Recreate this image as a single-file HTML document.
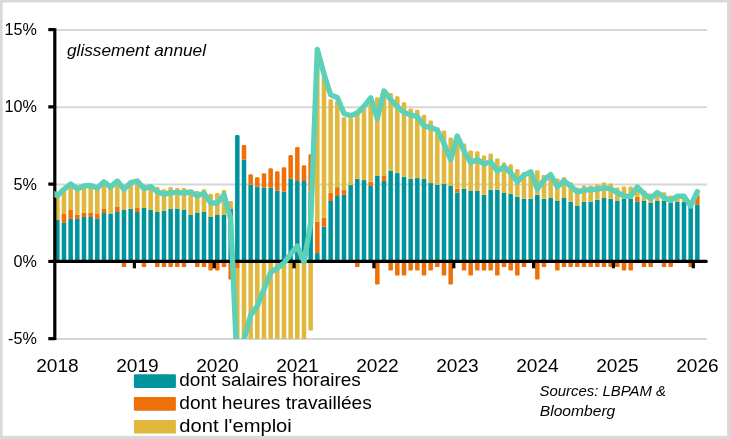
<!DOCTYPE html>
<html lang="fr"><head><meta charset="utf-8"><title>glissement annuel</title>
<style>
html,body{margin:0;padding:0;background:#fff;}
body{width:730px;height:439px;overflow:hidden;font-family:"Liberation Sans",sans-serif;}
svg{display:block;}
</style></head><body>
<svg width="730" height="439" viewBox="0 0 730 439">
<defs><clipPath id="plot"><rect x="54.3" y="26.8" width="652.7" height="312.3"/></clipPath></defs>
<rect x="0" y="0" width="730" height="439" fill="#d9d9d9"/>
<rect x="2.6" y="2.5" width="724.5" height="433.3" fill="#ffffff"/>
<line x1="55.3" y1="29.98" x2="707.0" y2="29.98" stroke="#d6d6d6" stroke-width="2"/>
<line x1="55.3" y1="107.25" x2="707.0" y2="107.25" stroke="#d6d6d6" stroke-width="2"/>
<line x1="55.3" y1="184.53" x2="707.0" y2="184.53" stroke="#d6d6d6" stroke-width="2"/>
<line x1="55.3" y1="339.07" x2="707.0" y2="339.07" stroke="#d6d6d6" stroke-width="2"/>
<g clip-path="url(#plot)">
<rect x="55.06" y="220.00" width="4.50" height="41.50" fill="#00959c"/>
<path d="M55.06 220.00 V197.10 A1.30 1.30 0 0 1 56.36 195.80 H58.26 A1.30 1.30 0 0 1 59.56 197.10 V220.00 Z" fill="#e0b83e"/>
<rect x="61.73" y="222.90" width="4.50" height="38.60" fill="#00959c"/>
<rect x="61.73" y="214.00" width="4.50" height="8.90" fill="#ee7008"/>
<path d="M61.73 214.00 V190.60 A1.30 1.30 0 0 1 63.03 189.30 H64.93 A1.30 1.30 0 0 1 66.23 190.60 V214.00 Z" fill="#e0b83e"/>
<rect x="68.40" y="218.90" width="4.50" height="42.60" fill="#00959c"/>
<rect x="68.40" y="210.00" width="4.50" height="8.90" fill="#ee7008"/>
<path d="M68.40 210.00 V185.30 A1.30 1.30 0 0 1 69.70 184.00 H71.60 A1.30 1.30 0 0 1 72.90 185.30 V210.00 Z" fill="#e0b83e"/>
<rect x="75.06" y="218.90" width="4.50" height="42.60" fill="#00959c"/>
<rect x="75.06" y="214.70" width="4.50" height="4.20" fill="#ee7008"/>
<path d="M75.06 214.70 V190.10 A1.30 1.30 0 0 1 76.36 188.80 H78.26 A1.30 1.30 0 0 1 79.56 190.10 V214.70 Z" fill="#e0b83e"/>
<rect x="81.73" y="217.00" width="4.50" height="44.50" fill="#00959c"/>
<rect x="81.73" y="213.00" width="4.50" height="4.00" fill="#ee7008"/>
<path d="M81.73 213.00 V187.30 A1.30 1.30 0 0 1 83.03 186.00 H84.93 A1.30 1.30 0 0 1 86.23 187.30 V213.00 Z" fill="#e0b83e"/>
<rect x="88.40" y="217.00" width="4.50" height="44.50" fill="#00959c"/>
<rect x="88.40" y="213.00" width="4.50" height="4.00" fill="#ee7008"/>
<path d="M88.40 213.00 V186.80 A1.30 1.30 0 0 1 89.70 185.50 H91.60 A1.30 1.30 0 0 1 92.90 186.80 V213.00 Z" fill="#e0b83e"/>
<rect x="95.07" y="218.90" width="4.50" height="42.60" fill="#00959c"/>
<rect x="95.07" y="214.00" width="4.50" height="4.90" fill="#ee7008"/>
<path d="M95.07 214.00 V189.40 A1.30 1.30 0 0 1 96.37 188.10 H98.27 A1.30 1.30 0 0 1 99.57 189.40 V214.00 Z" fill="#e0b83e"/>
<rect x="101.73" y="213.00" width="4.50" height="48.50" fill="#00959c"/>
<rect x="101.73" y="209.00" width="4.50" height="4.00" fill="#ee7008"/>
<path d="M101.73 209.00 V183.10 A1.30 1.30 0 0 1 103.03 181.80 H104.93 A1.30 1.30 0 0 1 106.23 183.10 V209.00 Z" fill="#e0b83e"/>
<rect x="108.40" y="214.00" width="4.50" height="47.50" fill="#00959c"/>
<path d="M108.40 214.00 V188.40 A1.30 1.30 0 0 1 109.70 187.10 H111.60 A1.30 1.30 0 0 1 112.90 188.40 V214.00 Z" fill="#e0b83e"/>
<rect x="115.07" y="212.00" width="4.50" height="49.50" fill="#00959c"/>
<rect x="115.07" y="207.00" width="4.50" height="5.00" fill="#ee7008"/>
<path d="M115.07 207.00 V182.30 A1.30 1.30 0 0 1 116.37 181.00 H118.27 A1.30 1.30 0 0 1 119.57 182.30 V207.00 Z" fill="#e0b83e"/>
<rect x="121.73" y="210.00" width="4.50" height="51.50" fill="#00959c"/>
<path d="M121.73 210.00 V186.10 A1.30 1.30 0 0 1 123.03 184.80 H124.93 A1.30 1.30 0 0 1 126.23 186.10 V210.00 Z" fill="#e0b83e"/>
<path d="M121.73 261.50 V266.20 A0.70 0.70 0 0 0 122.43 266.90 H125.53 A0.70 0.70 0 0 0 126.23 266.20 V261.50 Z" fill="#ee7008"/>
<rect x="128.40" y="209.00" width="4.50" height="52.50" fill="#00959c"/>
<path d="M128.40 209.00 V183.90 A1.30 1.30 0 0 1 129.70 182.60 H131.60 A1.30 1.30 0 0 1 132.90 183.90 V209.00 Z" fill="#e0b83e"/>
<rect x="135.07" y="212.00" width="4.50" height="49.50" fill="#00959c"/>
<rect x="135.07" y="208.00" width="4.50" height="4.00" fill="#ee7008"/>
<path d="M135.07 208.00 V182.30 A1.30 1.30 0 0 1 136.37 181.00 H138.27 A1.30 1.30 0 0 1 139.57 182.30 V208.00 Z" fill="#e0b83e"/>
<rect x="141.73" y="208.00" width="4.50" height="53.50" fill="#00959c"/>
<path d="M141.73 208.00 V185.60 A1.30 1.30 0 0 1 143.03 184.30 H144.93 A1.30 1.30 0 0 1 146.23 185.60 V208.00 Z" fill="#e0b83e"/>
<path d="M141.73 261.50 V266.20 A0.70 0.70 0 0 0 142.43 266.90 H145.53 A0.70 0.70 0 0 0 146.23 266.20 V261.50 Z" fill="#ee7008"/>
<rect x="148.40" y="210.00" width="4.50" height="51.50" fill="#00959c"/>
<path d="M148.40 210.00 V187.80 A1.30 1.30 0 0 1 149.70 186.50 H151.60 A1.30 1.30 0 0 1 152.90 187.80 V210.00 Z" fill="#e0b83e"/>
<rect x="155.07" y="212.00" width="4.50" height="49.50" fill="#00959c"/>
<path d="M155.07 212.00 V188.40 A1.30 1.30 0 0 1 156.37 187.10 H158.27 A1.30 1.30 0 0 1 159.57 188.40 V212.00 Z" fill="#e0b83e"/>
<path d="M155.07 261.50 V266.20 A0.70 0.70 0 0 0 155.77 266.90 H158.87 A0.70 0.70 0 0 0 159.57 266.20 V261.50 Z" fill="#ee7008"/>
<rect x="161.74" y="211.00" width="4.50" height="50.50" fill="#00959c"/>
<path d="M161.74 211.00 V190.60 A1.30 1.30 0 0 1 163.04 189.30 H164.94 A1.30 1.30 0 0 1 166.24 190.60 V211.00 Z" fill="#e0b83e"/>
<path d="M161.74 261.50 V266.20 A0.70 0.70 0 0 0 162.44 266.90 H165.54 A0.70 0.70 0 0 0 166.24 266.20 V261.50 Z" fill="#ee7008"/>
<rect x="168.40" y="209.00" width="4.50" height="52.50" fill="#00959c"/>
<path d="M168.40 209.00 V188.40 A1.30 1.30 0 0 1 169.70 187.10 H171.60 A1.30 1.30 0 0 1 172.90 188.40 V209.00 Z" fill="#e0b83e"/>
<path d="M168.40 261.50 V266.20 A0.70 0.70 0 0 0 169.10 266.90 H172.20 A0.70 0.70 0 0 0 172.90 266.20 V261.50 Z" fill="#ee7008"/>
<rect x="175.07" y="208.90" width="4.50" height="52.60" fill="#00959c"/>
<path d="M175.07 208.90 V189.40 A1.30 1.30 0 0 1 176.37 188.10 H178.27 A1.30 1.30 0 0 1 179.57 189.40 V208.90 Z" fill="#e0b83e"/>
<path d="M175.07 261.50 V266.20 A0.70 0.70 0 0 0 175.77 266.90 H178.87 A0.70 0.70 0 0 0 179.57 266.20 V261.50 Z" fill="#ee7008"/>
<rect x="181.74" y="209.90" width="4.50" height="51.60" fill="#00959c"/>
<path d="M181.74 209.90 V189.40 A1.30 1.30 0 0 1 183.04 188.10 H184.94 A1.30 1.30 0 0 1 186.24 189.40 V209.90 Z" fill="#e0b83e"/>
<path d="M181.74 261.50 V266.20 A0.70 0.70 0 0 0 182.44 266.90 H185.54 A0.70 0.70 0 0 0 186.24 266.20 V261.50 Z" fill="#ee7008"/>
<rect x="188.40" y="214.90" width="4.50" height="46.60" fill="#00959c"/>
<path d="M188.40 214.90 V193.10 A1.30 1.30 0 0 1 189.70 191.80 H191.60 A1.30 1.30 0 0 1 192.90 193.10 V214.90 Z" fill="#e0b83e"/>
<rect x="195.07" y="213.00" width="4.50" height="48.50" fill="#00959c"/>
<path d="M195.07 213.00 V192.30 A1.30 1.30 0 0 1 196.37 191.00 H198.27 A1.30 1.30 0 0 1 199.57 192.30 V213.00 Z" fill="#e0b83e"/>
<path d="M195.07 261.50 V266.20 A0.70 0.70 0 0 0 195.77 266.90 H198.87 A0.70 0.70 0 0 0 199.57 266.20 V261.50 Z" fill="#ee7008"/>
<rect x="201.74" y="211.90" width="4.50" height="49.60" fill="#00959c"/>
<path d="M201.74 211.90 V190.60 A1.30 1.30 0 0 1 203.04 189.30 H204.94 A1.30 1.30 0 0 1 206.24 190.60 V211.90 Z" fill="#e0b83e"/>
<path d="M201.74 261.50 V266.20 A0.70 0.70 0 0 0 202.44 266.90 H205.54 A0.70 0.70 0 0 0 206.24 266.20 V261.50 Z" fill="#ee7008"/>
<rect x="208.40" y="216.90" width="4.50" height="44.60" fill="#00959c"/>
<path d="M208.40 216.90 V195.10 A1.30 1.30 0 0 1 209.70 193.80 H211.60 A1.30 1.30 0 0 1 212.90 195.10 V216.90 Z" fill="#e0b83e"/>
<path d="M208.40 261.50 V269.80 A0.70 0.70 0 0 0 209.10 270.50 H212.20 A0.70 0.70 0 0 0 212.90 269.80 V261.50 Z" fill="#ee7008"/>
<rect x="215.07" y="214.90" width="4.50" height="46.60" fill="#00959c"/>
<path d="M215.07 214.90 V194.40 A1.30 1.30 0 0 1 216.37 193.10 H218.27 A1.30 1.30 0 0 1 219.57 194.40 V214.90 Z" fill="#e0b83e"/>
<path d="M215.07 261.50 V269.80 A0.70 0.70 0 0 0 215.77 270.50 H218.87 A0.70 0.70 0 0 0 219.57 269.80 V261.50 Z" fill="#ee7008"/>
<rect x="221.74" y="214.90" width="4.50" height="46.60" fill="#00959c"/>
<path d="M221.74 214.90 V191.40 A1.30 1.30 0 0 1 223.04 190.10 H224.94 A1.30 1.30 0 0 1 226.24 191.40 V214.90 Z" fill="#e0b83e"/>
<path d="M221.74 261.50 V266.20 A0.70 0.70 0 0 0 222.44 266.90 H225.54 A0.70 0.70 0 0 0 226.24 266.20 V261.50 Z" fill="#ee7008"/>
<rect x="228.41" y="208.90" width="4.50" height="52.60" fill="#00959c"/>
<path d="M228.41 208.90 V202.30 A1.30 1.30 0 0 1 229.71 201.00 H231.61 A1.30 1.30 0 0 1 232.91 202.30 V208.90 Z" fill="#e0b83e"/>
<path d="M228.41 261.50 V278.70 A0.70 0.70 0 0 0 229.11 279.40 H232.21 A0.70 0.70 0 0 0 232.91 278.70 V261.50 Z" fill="#ee7008"/>
<path d="M235.07 261.50 V136.40 A1.30 1.30 0 0 1 236.37 135.10 H238.27 A1.30 1.30 0 0 1 239.57 136.40 V261.50 Z" fill="#00959c"/>
<rect x="235.07" y="261.50" width="4.50" height="7.20" fill="#ee7008"/>
<path d="M235.07 268.70 V359.30 A0.70 0.70 0 0 0 235.77 360.00 H238.87 A0.70 0.70 0 0 0 239.57 359.30 V268.70 Z" fill="#e0b83e"/>
<rect x="241.74" y="159.80" width="4.50" height="101.70" fill="#00959c"/>
<path d="M241.74 159.80 V146.40 A1.30 1.30 0 0 1 243.04 145.10 H244.94 A1.30 1.30 0 0 1 246.24 146.40 V159.80 Z" fill="#ee7008"/>
<path d="M241.74 261.50 V359.30 A0.70 0.70 0 0 0 242.44 360.00 H245.54 A0.70 0.70 0 0 0 246.24 359.30 V261.50 Z" fill="#e0b83e"/>
<rect x="248.41" y="184.80" width="4.50" height="76.70" fill="#00959c"/>
<path d="M248.41 184.80 V175.60 A1.30 1.30 0 0 1 249.71 174.30 H251.61 A1.30 1.30 0 0 1 252.91 175.60 V184.80 Z" fill="#ee7008"/>
<path d="M248.41 261.50 V359.30 A0.70 0.70 0 0 0 249.11 360.00 H252.21 A0.70 0.70 0 0 0 252.91 359.30 V261.50 Z" fill="#e0b83e"/>
<rect x="255.07" y="186.80" width="4.50" height="74.70" fill="#00959c"/>
<path d="M255.07 186.80 V178.50 A1.30 1.30 0 0 1 256.37 177.20 H258.27 A1.30 1.30 0 0 1 259.57 178.50 V186.80 Z" fill="#ee7008"/>
<path d="M255.07 261.50 V359.30 A0.70 0.70 0 0 0 255.77 360.00 H258.87 A0.70 0.70 0 0 0 259.57 359.30 V261.50 Z" fill="#e0b83e"/>
<rect x="261.74" y="187.80" width="4.50" height="73.70" fill="#00959c"/>
<path d="M261.74 187.80 V174.50 A1.30 1.30 0 0 1 263.04 173.20 H264.94 A1.30 1.30 0 0 1 266.24 174.50 V187.80 Z" fill="#ee7008"/>
<path d="M261.74 261.50 V359.30 A0.70 0.70 0 0 0 262.44 360.00 H265.54 A0.70 0.70 0 0 0 266.24 359.30 V261.50 Z" fill="#e0b83e"/>
<rect x="268.41" y="187.80" width="4.50" height="73.70" fill="#00959c"/>
<path d="M268.41 187.80 V169.50 A1.30 1.30 0 0 1 269.71 168.20 H271.61 A1.30 1.30 0 0 1 272.91 169.50 V187.80 Z" fill="#ee7008"/>
<path d="M268.41 261.50 V359.30 A0.70 0.70 0 0 0 269.11 360.00 H272.21 A0.70 0.70 0 0 0 272.91 359.30 V261.50 Z" fill="#e0b83e"/>
<rect x="275.07" y="190.80" width="4.50" height="70.70" fill="#00959c"/>
<path d="M275.07 190.80 V172.60 A1.30 1.30 0 0 1 276.37 171.30 H278.27 A1.30 1.30 0 0 1 279.57 172.60 V190.80 Z" fill="#ee7008"/>
<path d="M275.07 261.50 V359.30 A0.70 0.70 0 0 0 275.77 360.00 H278.87 A0.70 0.70 0 0 0 279.57 359.30 V261.50 Z" fill="#e0b83e"/>
<rect x="281.74" y="191.80" width="4.50" height="69.70" fill="#00959c"/>
<path d="M281.74 191.80 V168.50 A1.30 1.30 0 0 1 283.04 167.20 H284.94 A1.30 1.30 0 0 1 286.24 168.50 V191.80 Z" fill="#ee7008"/>
<path d="M281.74 261.50 V359.30 A0.70 0.70 0 0 0 282.44 360.00 H285.54 A0.70 0.70 0 0 0 286.24 359.30 V261.50 Z" fill="#e0b83e"/>
<rect x="288.41" y="178.80" width="4.50" height="82.70" fill="#00959c"/>
<path d="M288.41 178.80 V156.40 A1.30 1.30 0 0 1 289.71 155.10 H291.61 A1.30 1.30 0 0 1 292.91 156.40 V178.80 Z" fill="#ee7008"/>
<path d="M288.41 261.50 V359.30 A0.70 0.70 0 0 0 289.11 360.00 H292.21 A0.70 0.70 0 0 0 292.91 359.30 V261.50 Z" fill="#e0b83e"/>
<rect x="295.08" y="181.00" width="4.50" height="80.50" fill="#00959c"/>
<path d="M295.08 181.00 V148.40 A1.30 1.30 0 0 1 296.38 147.10 H298.28 A1.30 1.30 0 0 1 299.58 148.40 V181.00 Z" fill="#ee7008"/>
<path d="M295.08 261.50 V359.30 A0.70 0.70 0 0 0 295.78 360.00 H298.88 A0.70 0.70 0 0 0 299.58 359.30 V261.50 Z" fill="#e0b83e"/>
<rect x="301.74" y="181.00" width="4.50" height="80.50" fill="#00959c"/>
<path d="M301.74 181.00 V166.50 A1.30 1.30 0 0 1 303.04 165.20 H304.94 A1.30 1.30 0 0 1 306.24 166.50 V181.00 Z" fill="#ee7008"/>
<path d="M301.74 261.50 V359.30 A0.70 0.70 0 0 0 302.44 360.00 H305.54 A0.70 0.70 0 0 0 306.24 359.30 V261.50 Z" fill="#e0b83e"/>
<rect x="308.41" y="192.60" width="4.50" height="68.90" fill="#00959c"/>
<path d="M308.41 192.60 V155.60 A1.30 1.30 0 0 1 309.71 154.30 H311.61 A1.30 1.30 0 0 1 312.91 155.60 V192.60 Z" fill="#ee7008"/>
<path d="M308.41 261.50 V329.80 A0.70 0.70 0 0 0 309.11 330.50 H312.21 A0.70 0.70 0 0 0 312.91 329.80 V261.50 Z" fill="#e0b83e"/>
<rect x="315.08" y="253.10" width="4.50" height="8.40" fill="#00959c"/>
<rect x="315.08" y="221.70" width="4.50" height="31.40" fill="#ee7008"/>
<path d="M315.08 221.70 V50.80 A1.30 1.30 0 0 1 316.38 49.50 H318.28 A1.30 1.30 0 0 1 319.58 50.80 V221.70 Z" fill="#e0b83e"/>
<rect x="321.74" y="226.70" width="4.50" height="34.80" fill="#00959c"/>
<rect x="321.74" y="218.00" width="4.50" height="8.70" fill="#ee7008"/>
<path d="M321.74 218.00 V77.80 A1.30 1.30 0 0 1 323.04 76.50 H324.94 A1.30 1.30 0 0 1 326.24 77.80 V218.00 Z" fill="#e0b83e"/>
<rect x="328.41" y="201.00" width="4.50" height="60.50" fill="#00959c"/>
<rect x="328.41" y="193.10" width="4.50" height="7.90" fill="#ee7008"/>
<path d="M328.41 193.10 V100.50 A1.30 1.30 0 0 1 329.71 99.20 H331.61 A1.30 1.30 0 0 1 332.91 100.50 V193.10 Z" fill="#e0b83e"/>
<rect x="335.08" y="196.00" width="4.50" height="65.50" fill="#00959c"/>
<rect x="335.08" y="187.10" width="4.50" height="8.90" fill="#ee7008"/>
<path d="M335.08 187.10 V102.60 A1.30 1.30 0 0 1 336.38 101.30 H338.28 A1.30 1.30 0 0 1 339.58 102.60 V187.10 Z" fill="#e0b83e"/>
<rect x="341.74" y="194.80" width="4.50" height="66.70" fill="#00959c"/>
<rect x="341.74" y="190.10" width="4.50" height="4.70" fill="#ee7008"/>
<path d="M341.74 190.10 V118.50 A1.30 1.30 0 0 1 343.04 117.20 H344.94 A1.30 1.30 0 0 1 346.24 118.50 V190.10 Z" fill="#e0b83e"/>
<rect x="348.41" y="185.10" width="4.50" height="76.40" fill="#00959c"/>
<path d="M348.41 185.10 V119.50 A1.30 1.30 0 0 1 349.71 118.20 H351.61 A1.30 1.30 0 0 1 352.91 119.50 V185.10 Z" fill="#e0b83e"/>
<rect x="355.08" y="178.80" width="4.50" height="82.70" fill="#00959c"/>
<path d="M355.08 178.80 V114.80 A1.30 1.30 0 0 1 356.38 113.50 H358.28 A1.30 1.30 0 0 1 359.58 114.80 V178.80 Z" fill="#e0b83e"/>
<path d="M355.08 261.50 V266.20 A0.70 0.70 0 0 0 355.78 266.90 H358.88 A0.70 0.70 0 0 0 359.58 266.20 V261.50 Z" fill="#ee7008"/>
<rect x="361.75" y="180.10" width="4.50" height="81.40" fill="#00959c"/>
<path d="M361.75 180.10 V109.80 A1.30 1.30 0 0 1 363.05 108.50 H364.95 A1.30 1.30 0 0 1 366.25 109.80 V180.10 Z" fill="#e0b83e"/>
<rect x="368.41" y="186.00" width="4.50" height="75.50" fill="#00959c"/>
<rect x="368.41" y="181.80" width="4.50" height="4.20" fill="#ee7008"/>
<path d="M368.41 181.80 V102.30 A1.30 1.30 0 0 1 369.71 101.00 H371.61 A1.30 1.30 0 0 1 372.91 102.30 V181.80 Z" fill="#e0b83e"/>
<rect x="375.08" y="175.90" width="4.50" height="85.60" fill="#00959c"/>
<path d="M375.08 175.90 V98.50 A1.30 1.30 0 0 1 376.38 97.20 H378.28 A1.30 1.30 0 0 1 379.58 98.50 V175.90 Z" fill="#e0b83e"/>
<path d="M375.08 261.50 V283.80 A0.70 0.70 0 0 0 375.78 284.50 H378.88 A0.70 0.70 0 0 0 379.58 283.80 V261.50 Z" fill="#ee7008"/>
<rect x="381.75" y="180.90" width="4.50" height="80.60" fill="#00959c"/>
<rect x="381.75" y="175.90" width="4.50" height="5.00" fill="#ee7008"/>
<path d="M381.75 175.90 V92.80 A1.30 1.30 0 0 1 383.05 91.50 H384.95 A1.30 1.30 0 0 1 386.25 92.80 V175.90 Z" fill="#e0b83e"/>
<rect x="388.41" y="170.90" width="4.50" height="90.60" fill="#00959c"/>
<path d="M388.41 170.90 V94.30 A1.30 1.30 0 0 1 389.71 93.00 H391.61 A1.30 1.30 0 0 1 392.91 94.30 V170.90 Z" fill="#e0b83e"/>
<path d="M388.41 261.50 V269.80 A0.70 0.70 0 0 0 389.11 270.50 H392.21 A0.70 0.70 0 0 0 392.91 269.80 V261.50 Z" fill="#ee7008"/>
<rect x="395.08" y="173.10" width="4.50" height="88.40" fill="#00959c"/>
<path d="M395.08 173.10 V97.60 A1.30 1.30 0 0 1 396.38 96.30 H398.28 A1.30 1.30 0 0 1 399.58 97.60 V173.10 Z" fill="#e0b83e"/>
<path d="M395.08 261.50 V274.80 A0.70 0.70 0 0 0 395.78 275.50 H398.88 A0.70 0.70 0 0 0 399.58 274.80 V261.50 Z" fill="#ee7008"/>
<rect x="401.75" y="176.80" width="4.50" height="84.70" fill="#00959c"/>
<path d="M401.75 176.80 V103.50 A1.30 1.30 0 0 1 403.05 102.20 H404.95 A1.30 1.30 0 0 1 406.25 103.50 V176.80 Z" fill="#e0b83e"/>
<path d="M401.75 261.50 V274.80 A0.70 0.70 0 0 0 402.45 275.50 H405.55 A0.70 0.70 0 0 0 406.25 274.80 V261.50 Z" fill="#ee7008"/>
<rect x="408.41" y="178.80" width="4.50" height="82.70" fill="#00959c"/>
<path d="M408.41 178.80 V109.70 A1.30 1.30 0 0 1 409.71 108.40 H411.61 A1.30 1.30 0 0 1 412.91 109.70 V178.80 Z" fill="#e0b83e"/>
<path d="M408.41 261.50 V269.80 A0.70 0.70 0 0 0 409.11 270.50 H412.21 A0.70 0.70 0 0 0 412.91 269.80 V261.50 Z" fill="#ee7008"/>
<rect x="415.08" y="178.10" width="4.50" height="83.40" fill="#00959c"/>
<path d="M415.08 178.10 V111.00 A1.30 1.30 0 0 1 416.38 109.70 H418.28 A1.30 1.30 0 0 1 419.58 111.00 V178.10 Z" fill="#e0b83e"/>
<path d="M415.08 261.50 V269.80 A0.70 0.70 0 0 0 415.78 270.50 H418.88 A0.70 0.70 0 0 0 419.58 269.80 V261.50 Z" fill="#ee7008"/>
<rect x="421.75" y="178.90" width="4.50" height="82.60" fill="#00959c"/>
<path d="M421.75 178.90 V116.00 A1.30 1.30 0 0 1 423.05 114.70 H424.95 A1.30 1.30 0 0 1 426.25 116.00 V178.90 Z" fill="#e0b83e"/>
<path d="M421.75 261.50 V274.80 A0.70 0.70 0 0 0 422.45 275.50 H425.55 A0.70 0.70 0 0 0 426.25 274.80 V261.50 Z" fill="#ee7008"/>
<rect x="428.42" y="183.10" width="4.50" height="78.40" fill="#00959c"/>
<path d="M428.42 183.10 V121.70 A1.30 1.30 0 0 1 429.72 120.40 H431.62 A1.30 1.30 0 0 1 432.92 121.70 V183.10 Z" fill="#e0b83e"/>
<path d="M428.42 261.50 V269.80 A0.70 0.70 0 0 0 429.12 270.50 H432.22 A0.70 0.70 0 0 0 432.92 269.80 V261.50 Z" fill="#ee7008"/>
<rect x="435.08" y="184.80" width="4.50" height="76.70" fill="#00959c"/>
<path d="M435.08 184.80 V128.90 A1.30 1.30 0 0 1 436.38 127.60 H438.28 A1.30 1.30 0 0 1 439.58 128.90 V184.80 Z" fill="#e0b83e"/>
<path d="M435.08 261.50 V266.20 A0.70 0.70 0 0 0 435.78 266.90 H438.88 A0.70 0.70 0 0 0 439.58 266.20 V261.50 Z" fill="#ee7008"/>
<rect x="441.75" y="184.10" width="4.50" height="77.40" fill="#00959c"/>
<path d="M441.75 184.10 V131.80 A1.30 1.30 0 0 1 443.05 130.50 H444.95 A1.30 1.30 0 0 1 446.25 131.80 V184.10 Z" fill="#e0b83e"/>
<path d="M441.75 261.50 V274.80 A0.70 0.70 0 0 0 442.45 275.50 H445.55 A0.70 0.70 0 0 0 446.25 274.80 V261.50 Z" fill="#ee7008"/>
<rect x="448.42" y="186.00" width="4.50" height="75.50" fill="#00959c"/>
<path d="M448.42 186.00 V138.90 A1.30 1.30 0 0 1 449.72 137.60 H451.62 A1.30 1.30 0 0 1 452.92 138.90 V186.00 Z" fill="#e0b83e"/>
<path d="M448.42 261.50 V283.80 A0.70 0.70 0 0 0 449.12 284.50 H452.22 A0.70 0.70 0 0 0 452.92 283.80 V261.50 Z" fill="#ee7008"/>
<rect x="455.08" y="192.70" width="4.50" height="68.80" fill="#00959c"/>
<rect x="455.08" y="188.80" width="4.50" height="3.90" fill="#ee7008"/>
<path d="M455.08 188.80 V137.30 A1.30 1.30 0 0 1 456.38 136.00 H458.28 A1.30 1.30 0 0 1 459.58 137.30 V188.80 Z" fill="#e0b83e"/>
<rect x="461.75" y="189.00" width="4.50" height="72.50" fill="#00959c"/>
<path d="M461.75 189.00 V144.80 A1.30 1.30 0 0 1 463.05 143.50 H464.95 A1.30 1.30 0 0 1 466.25 144.80 V189.00 Z" fill="#e0b83e"/>
<path d="M461.75 261.50 V269.80 A0.70 0.70 0 0 0 462.45 270.50 H465.55 A0.70 0.70 0 0 0 466.25 269.80 V261.50 Z" fill="#ee7008"/>
<rect x="468.42" y="191.00" width="4.50" height="70.50" fill="#00959c"/>
<path d="M468.42 191.00 V151.70 A1.30 1.30 0 0 1 469.72 150.40 H471.62 A1.30 1.30 0 0 1 472.92 151.70 V191.00 Z" fill="#e0b83e"/>
<path d="M468.42 261.50 V274.80 A0.70 0.70 0 0 0 469.12 275.50 H472.22 A0.70 0.70 0 0 0 472.92 274.80 V261.50 Z" fill="#ee7008"/>
<rect x="475.08" y="191.00" width="4.50" height="70.50" fill="#00959c"/>
<path d="M475.08 191.00 V152.60 A1.30 1.30 0 0 1 476.38 151.30 H478.28 A1.30 1.30 0 0 1 479.58 152.60 V191.00 Z" fill="#e0b83e"/>
<path d="M475.08 261.50 V269.80 A0.70 0.70 0 0 0 475.78 270.50 H478.88 A0.70 0.70 0 0 0 479.58 269.80 V261.50 Z" fill="#ee7008"/>
<rect x="481.75" y="194.80" width="4.50" height="66.70" fill="#00959c"/>
<path d="M481.75 194.80 V156.70 A1.30 1.30 0 0 1 483.05 155.40 H484.95 A1.30 1.30 0 0 1 486.25 156.70 V194.80 Z" fill="#e0b83e"/>
<path d="M481.75 261.50 V269.80 A0.70 0.70 0 0 0 482.45 270.50 H485.55 A0.70 0.70 0 0 0 486.25 269.80 V261.50 Z" fill="#ee7008"/>
<rect x="488.42" y="189.80" width="4.50" height="71.70" fill="#00959c"/>
<path d="M488.42 189.80 V154.70 A1.30 1.30 0 0 1 489.72 153.40 H491.62 A1.30 1.30 0 0 1 492.92 154.70 V189.80 Z" fill="#e0b83e"/>
<path d="M488.42 261.50 V269.80 A0.70 0.70 0 0 0 489.12 270.50 H492.22 A0.70 0.70 0 0 0 492.92 269.80 V261.50 Z" fill="#ee7008"/>
<rect x="495.09" y="189.80" width="4.50" height="71.70" fill="#00959c"/>
<path d="M495.09 189.80 V159.70 A1.30 1.30 0 0 1 496.39 158.40 H498.29 A1.30 1.30 0 0 1 499.59 159.70 V189.80 Z" fill="#e0b83e"/>
<path d="M495.09 261.50 V274.80 A0.70 0.70 0 0 0 495.79 275.50 H498.89 A0.70 0.70 0 0 0 499.59 274.80 V261.50 Z" fill="#ee7008"/>
<rect x="501.75" y="193.00" width="4.50" height="68.50" fill="#00959c"/>
<path d="M501.75 193.00 V163.70 A1.30 1.30 0 0 1 503.05 162.40 H504.95 A1.30 1.30 0 0 1 506.25 163.70 V193.00 Z" fill="#e0b83e"/>
<path d="M501.75 261.50 V266.20 A0.70 0.70 0 0 0 502.45 266.90 H505.55 A0.70 0.70 0 0 0 506.25 266.20 V261.50 Z" fill="#ee7008"/>
<rect x="508.42" y="193.80" width="4.50" height="67.70" fill="#00959c"/>
<path d="M508.42 193.80 V165.60 A1.30 1.30 0 0 1 509.72 164.30 H511.62 A1.30 1.30 0 0 1 512.92 165.60 V193.80 Z" fill="#e0b83e"/>
<path d="M508.42 261.50 V269.80 A0.70 0.70 0 0 0 509.12 270.50 H512.22 A0.70 0.70 0 0 0 512.92 269.80 V261.50 Z" fill="#ee7008"/>
<rect x="515.09" y="196.80" width="4.50" height="64.70" fill="#00959c"/>
<path d="M515.09 196.80 V170.50 A1.30 1.30 0 0 1 516.39 169.20 H518.29 A1.30 1.30 0 0 1 519.59 170.50 V196.80 Z" fill="#e0b83e"/>
<path d="M515.09 261.50 V274.80 A0.70 0.70 0 0 0 515.79 275.50 H518.89 A0.70 0.70 0 0 0 519.59 274.80 V261.50 Z" fill="#ee7008"/>
<rect x="521.75" y="198.80" width="4.50" height="62.70" fill="#00959c"/>
<path d="M521.75 198.80 V173.40 A1.30 1.30 0 0 1 523.05 172.10 H524.95 A1.30 1.30 0 0 1 526.25 173.40 V198.80 Z" fill="#e0b83e"/>
<path d="M521.75 261.50 V266.20 A0.70 0.70 0 0 0 522.45 266.90 H525.55 A0.70 0.70 0 0 0 526.25 266.20 V261.50 Z" fill="#ee7008"/>
<rect x="528.42" y="198.80" width="4.50" height="62.70" fill="#00959c"/>
<path d="M528.42 198.80 V172.30 A1.30 1.30 0 0 1 529.72 171.00 H531.62 A1.30 1.30 0 0 1 532.92 172.30 V198.80 Z" fill="#e0b83e"/>
<rect x="535.09" y="194.80" width="4.50" height="66.70" fill="#00959c"/>
<path d="M535.09 194.80 V171.50 A1.30 1.30 0 0 1 536.39 170.20 H538.29 A1.30 1.30 0 0 1 539.59 171.50 V194.80 Z" fill="#e0b83e"/>
<path d="M535.09 261.50 V278.80 A0.70 0.70 0 0 0 535.79 279.50 H538.89 A0.70 0.70 0 0 0 539.59 278.80 V261.50 Z" fill="#ee7008"/>
<rect x="541.75" y="198.80" width="4.50" height="62.70" fill="#00959c"/>
<path d="M541.75 198.80 V176.30 A1.30 1.30 0 0 1 543.05 175.00 H544.95 A1.30 1.30 0 0 1 546.25 176.30 V198.80 Z" fill="#e0b83e"/>
<path d="M541.75 261.50 V266.20 A0.70 0.70 0 0 0 542.45 266.90 H545.55 A0.70 0.70 0 0 0 546.25 266.20 V261.50 Z" fill="#ee7008"/>
<rect x="548.42" y="198.00" width="4.50" height="63.50" fill="#00959c"/>
<path d="M548.42 198.00 V176.00 A1.30 1.30 0 0 1 549.72 174.70 H551.62 A1.30 1.30 0 0 1 552.92 176.00 V198.00 Z" fill="#e0b83e"/>
<rect x="555.09" y="201.00" width="4.50" height="60.50" fill="#00959c"/>
<path d="M555.09 201.00 V179.70 A1.30 1.30 0 0 1 556.39 178.40 H558.29 A1.30 1.30 0 0 1 559.59 179.70 V201.00 Z" fill="#e0b83e"/>
<path d="M555.09 261.50 V269.80 A0.70 0.70 0 0 0 555.79 270.50 H558.89 A0.70 0.70 0 0 0 559.59 269.80 V261.50 Z" fill="#ee7008"/>
<rect x="561.76" y="198.00" width="4.50" height="63.50" fill="#00959c"/>
<path d="M561.76 198.00 V178.60 A1.30 1.30 0 0 1 563.06 177.30 H564.96 A1.30 1.30 0 0 1 566.26 178.60 V198.00 Z" fill="#e0b83e"/>
<path d="M561.76 261.50 V266.20 A0.70 0.70 0 0 0 562.46 266.90 H565.56 A0.70 0.70 0 0 0 566.26 266.20 V261.50 Z" fill="#ee7008"/>
<rect x="568.42" y="201.80" width="4.50" height="59.70" fill="#00959c"/>
<path d="M568.42 201.80 V183.60 A1.30 1.30 0 0 1 569.72 182.30 H571.62 A1.30 1.30 0 0 1 572.92 183.60 V201.80 Z" fill="#e0b83e"/>
<path d="M568.42 261.50 V266.20 A0.70 0.70 0 0 0 569.12 266.90 H572.22 A0.70 0.70 0 0 0 572.92 266.20 V261.50 Z" fill="#ee7008"/>
<rect x="575.09" y="206.00" width="4.50" height="55.50" fill="#00959c"/>
<path d="M575.09 206.00 V188.90 A1.30 1.30 0 0 1 576.39 187.60 H578.29 A1.30 1.30 0 0 1 579.59 188.90 V206.00 Z" fill="#e0b83e"/>
<path d="M575.09 261.50 V266.20 A0.70 0.70 0 0 0 575.79 266.90 H578.89 A0.70 0.70 0 0 0 579.59 266.20 V261.50 Z" fill="#ee7008"/>
<rect x="581.76" y="201.80" width="4.50" height="59.70" fill="#00959c"/>
<path d="M581.76 201.80 V186.80 A1.30 1.30 0 0 1 583.06 185.50 H584.96 A1.30 1.30 0 0 1 586.26 186.80 V201.80 Z" fill="#e0b83e"/>
<path d="M581.76 261.50 V266.20 A0.70 0.70 0 0 0 582.46 266.90 H585.56 A0.70 0.70 0 0 0 586.26 266.20 V261.50 Z" fill="#ee7008"/>
<rect x="588.42" y="201.80" width="4.50" height="59.70" fill="#00959c"/>
<path d="M588.42 201.80 V186.80 A1.30 1.30 0 0 1 589.72 185.50 H591.62 A1.30 1.30 0 0 1 592.92 186.80 V201.80 Z" fill="#e0b83e"/>
<path d="M588.42 261.50 V266.20 A0.70 0.70 0 0 0 589.12 266.90 H592.22 A0.70 0.70 0 0 0 592.92 266.20 V261.50 Z" fill="#ee7008"/>
<rect x="595.09" y="199.80" width="4.50" height="61.70" fill="#00959c"/>
<path d="M595.09 199.80 V185.60 A1.30 1.30 0 0 1 596.39 184.30 H598.29 A1.30 1.30 0 0 1 599.59 185.60 V199.80 Z" fill="#e0b83e"/>
<path d="M595.09 261.50 V266.20 A0.70 0.70 0 0 0 595.79 266.90 H598.89 A0.70 0.70 0 0 0 599.59 266.20 V261.50 Z" fill="#ee7008"/>
<rect x="601.76" y="198.00" width="4.50" height="63.50" fill="#00959c"/>
<path d="M601.76 198.00 V183.90 A1.30 1.30 0 0 1 603.06 182.60 H604.96 A1.30 1.30 0 0 1 606.26 183.90 V198.00 Z" fill="#e0b83e"/>
<path d="M601.76 261.50 V266.20 A0.70 0.70 0 0 0 602.46 266.90 H605.56 A0.70 0.70 0 0 0 606.26 266.20 V261.50 Z" fill="#ee7008"/>
<rect x="608.42" y="198.80" width="4.50" height="62.70" fill="#00959c"/>
<path d="M608.42 198.80 V184.70 A1.30 1.30 0 0 1 609.72 183.40 H611.62 A1.30 1.30 0 0 1 612.92 184.70 V198.80 Z" fill="#e0b83e"/>
<path d="M608.42 261.50 V266.20 A0.70 0.70 0 0 0 609.12 266.90 H612.22 A0.70 0.70 0 0 0 612.92 266.20 V261.50 Z" fill="#ee7008"/>
<rect x="615.09" y="201.00" width="4.50" height="60.50" fill="#00959c"/>
<path d="M615.09 201.00 V188.90 A1.30 1.30 0 0 1 616.39 187.60 H618.29 A1.30 1.30 0 0 1 619.59 188.90 V201.00 Z" fill="#e0b83e"/>
<path d="M615.09 261.50 V266.20 A0.70 0.70 0 0 0 615.79 266.90 H618.89 A0.70 0.70 0 0 0 619.59 266.20 V261.50 Z" fill="#ee7008"/>
<rect x="621.76" y="198.80" width="4.50" height="62.70" fill="#00959c"/>
<path d="M621.76 198.80 V187.80 A1.30 1.30 0 0 1 623.06 186.50 H624.96 A1.30 1.30 0 0 1 626.26 187.80 V198.80 Z" fill="#e0b83e"/>
<path d="M621.76 261.50 V269.80 A0.70 0.70 0 0 0 622.46 270.50 H625.56 A0.70 0.70 0 0 0 626.26 269.80 V261.50 Z" fill="#ee7008"/>
<rect x="628.43" y="198.80" width="4.50" height="62.70" fill="#00959c"/>
<path d="M628.43 198.80 V187.80 A1.30 1.30 0 0 1 629.73 186.50 H631.63 A1.30 1.30 0 0 1 632.93 187.80 V198.80 Z" fill="#e0b83e"/>
<path d="M628.43 261.50 V269.80 A0.70 0.70 0 0 0 629.13 270.50 H632.23 A0.70 0.70 0 0 0 632.93 269.80 V261.50 Z" fill="#ee7008"/>
<rect x="635.09" y="201.80" width="4.50" height="59.70" fill="#00959c"/>
<rect x="635.09" y="196.80" width="4.50" height="5.00" fill="#ee7008"/>
<path d="M635.09 196.80 V188.30 A1.30 1.30 0 0 1 636.39 187.00 H638.29 A1.30 1.30 0 0 1 639.59 188.30 V196.80 Z" fill="#e0b83e"/>
<rect x="641.76" y="201.00" width="4.50" height="60.50" fill="#00959c"/>
<path d="M641.76 201.00 V191.80 A1.30 1.30 0 0 1 643.06 190.50 H644.96 A1.30 1.30 0 0 1 646.26 191.80 V201.00 Z" fill="#e0b83e"/>
<path d="M641.76 261.50 V266.20 A0.70 0.70 0 0 0 642.46 266.90 H645.56 A0.70 0.70 0 0 0 646.26 266.20 V261.50 Z" fill="#ee7008"/>
<rect x="648.43" y="203.00" width="4.50" height="58.50" fill="#00959c"/>
<path d="M648.43 203.00 V194.80 A1.30 1.30 0 0 1 649.73 193.50 H651.63 A1.30 1.30 0 0 1 652.93 194.80 V203.00 Z" fill="#e0b83e"/>
<path d="M648.43 261.50 V266.20 A0.70 0.70 0 0 0 649.13 266.90 H652.23 A0.70 0.70 0 0 0 652.93 266.20 V261.50 Z" fill="#ee7008"/>
<rect x="655.09" y="201.00" width="4.50" height="60.50" fill="#00959c"/>
<path d="M655.09 201.00 V193.80 A1.30 1.30 0 0 1 656.39 192.50 H658.29 A1.30 1.30 0 0 1 659.59 193.80 V201.00 Z" fill="#e0b83e"/>
<rect x="661.76" y="201.00" width="4.50" height="60.50" fill="#00959c"/>
<path d="M661.76 201.00 V193.50 A1.30 1.30 0 0 1 663.06 192.20 H664.96 A1.30 1.30 0 0 1 666.26 193.50 V201.00 Z" fill="#e0b83e"/>
<path d="M661.76 261.50 V266.20 A0.70 0.70 0 0 0 662.46 266.90 H665.56 A0.70 0.70 0 0 0 666.26 266.20 V261.50 Z" fill="#ee7008"/>
<rect x="668.43" y="203.00" width="4.50" height="58.50" fill="#00959c"/>
<path d="M668.43 203.00 V196.70 A1.30 1.30 0 0 1 669.73 195.40 H671.63 A1.30 1.30 0 0 1 672.93 196.70 V203.00 Z" fill="#e0b83e"/>
<path d="M668.43 261.50 V266.20 A0.70 0.70 0 0 0 669.13 266.90 H672.23 A0.70 0.70 0 0 0 672.93 266.20 V261.50 Z" fill="#ee7008"/>
<rect x="675.09" y="201.90" width="4.50" height="59.60" fill="#00959c"/>
<path d="M675.09 201.90 V197.60 A1.30 1.30 0 0 1 676.39 196.30 H678.29 A1.30 1.30 0 0 1 679.59 197.60 V201.90 Z" fill="#e0b83e"/>
<rect x="681.76" y="201.60" width="4.50" height="59.90" fill="#00959c"/>
<path d="M681.76 201.60 V197.60 A1.30 1.30 0 0 1 683.06 196.30 H684.96 A1.30 1.30 0 0 1 686.26 197.60 V201.60 Z" fill="#e0b83e"/>
<rect x="688.43" y="203.50" width="4.50" height="58.00" fill="#00959c"/>
<path d="M688.43 203.50 V202.60 A1.30 1.30 0 0 1 689.73 201.30 H691.63 A1.30 1.30 0 0 1 692.93 202.60 V203.50 Z" fill="#e0b83e"/>
<path d="M688.43 261.50 V266.20 A0.70 0.70 0 0 0 689.13 266.90 H692.23 A0.70 0.70 0 0 0 692.93 266.20 V261.50 Z" fill="#ee7008"/>
<rect x="695.10" y="204.80" width="4.50" height="56.70" fill="#00959c"/>
<rect x="695.10" y="195.50" width="4.50" height="9.30" fill="#ee7008"/>
<path d="M695.10 195.50 V194.10 A1.30 1.30 0 0 1 696.40 192.80 H698.30 A1.30 1.30 0 0 1 699.60 194.10 V195.50 Z" fill="#e0b83e"/>
</g>
<g stroke="#000" stroke-width="3.2" fill="none">
<line x1="54.8" y1="28.3" x2="54.8" y2="339.9"/>
<line x1="48.3" y1="29.58" x2="54.8" y2="29.58"/>
<line x1="48.3" y1="106.85" x2="54.8" y2="106.85"/>
<line x1="48.3" y1="184.12" x2="54.8" y2="184.12"/>
<line x1="48.3" y1="261.40" x2="54.8" y2="261.40"/>
<line x1="48.3" y1="338.67" x2="54.8" y2="338.67"/>
<line x1="54.8" y1="261.40" x2="706.2" y2="261.40" stroke-linecap="round"/>
<line x1="134.40" y1="261.50" x2="134.40" y2="268.3"/>
<line x1="214.25" y1="261.50" x2="214.25" y2="268.3"/>
<line x1="294.09" y1="261.50" x2="294.09" y2="268.3"/>
<line x1="373.93" y1="261.50" x2="373.93" y2="268.3"/>
<line x1="453.78" y1="261.50" x2="453.78" y2="268.3"/>
<line x1="533.62" y1="261.50" x2="533.62" y2="268.3"/>
<line x1="613.46" y1="261.50" x2="613.46" y2="268.3"/>
<line x1="693.31" y1="261.50" x2="693.31" y2="268.3"/>
</g>
<g clip-path="url(#plot)"><polyline points="50.6,191.5 57.3,195.8 64.0,189.3 70.6,184.0 77.3,188.8 84.0,186.0 90.6,185.5 97.3,188.1 104.0,181.8 110.6,187.1 117.3,181.0 124.0,189.3 130.7,182.6 137.3,181.0 144.0,188.8 150.7,186.5 157.3,191.8 164.0,194.3 170.7,192.6 177.3,192.6 184.0,193.0 190.7,191.8 197.3,196.0 204.0,193.3 210.7,203.0 217.3,203.0 224.0,194.8 230.7,219.0 237.3,370.0 244.0,339.8 250.7,315.2 257.3,306.0 264.0,289.0 270.7,272.5 277.3,268.0 284.0,263.0 290.7,254.0 297.3,246.0 304.0,262.0 310.7,223.0 317.3,49.5 324.0,74.0 330.7,95.0 337.3,97.5 344.0,113.5 350.7,115.8 357.3,113.0 364.0,106.3 370.7,97.8 377.3,118.6 384.0,91.0 390.7,99.5 397.3,106.6 404.0,112.6 410.7,114.8 417.3,116.7 424.0,125.9 430.7,127.6 437.3,130.1 444.0,143.5 450.7,159.7 457.3,136.0 464.0,151.0 470.7,162.6 477.3,159.5 484.0,164.0 490.7,161.8 497.3,171.0 504.0,166.7 510.7,172.6 517.3,181.8 524.0,175.1 530.7,171.8 537.3,189.0 544.0,180.1 550.7,174.7 557.3,186.8 564.0,180.9 570.7,186.0 577.3,192.1 584.0,190.1 590.7,189.8 597.3,189.3 604.0,187.6 610.7,188.8 617.3,192.6 624.0,196.0 630.7,196.3 637.3,187.0 644.0,193.8 650.7,198.6 657.3,192.6 664.0,197.3 670.7,200.6 677.3,196.3 684.0,196.3 690.7,206.0 697.3,191.6" fill="none" stroke="#5dd1b8" stroke-width="5.4" stroke-linejoin="round" stroke-linecap="round"/></g>
<g font-family="'Liberation Sans', sans-serif" fill="#000">
<text x="36.8" y="34.9" font-size="16.2" text-anchor="end">15%</text>
<text x="36.8" y="112.2" font-size="16.2" text-anchor="end">10%</text>
<text x="36.8" y="189.5" font-size="16.2" text-anchor="end">5%</text>
<text x="36.8" y="266.8" font-size="16.2" text-anchor="end">0%</text>
<text x="36.8" y="344.0" font-size="16.2" text-anchor="end">-5%</text>
<text x="57.5" y="372" font-size="18.6" text-anchor="middle" textLength="42.5" lengthAdjust="spacingAndGlyphs">2018</text>
<text x="137.5" y="372" font-size="18.6" text-anchor="middle" textLength="42.5" lengthAdjust="spacingAndGlyphs">2019</text>
<text x="217.5" y="372" font-size="18.6" text-anchor="middle" textLength="42.5" lengthAdjust="spacingAndGlyphs">2020</text>
<text x="297.5" y="372" font-size="18.6" text-anchor="middle" textLength="42.5" lengthAdjust="spacingAndGlyphs">2021</text>
<text x="377.5" y="372" font-size="18.6" text-anchor="middle" textLength="42.5" lengthAdjust="spacingAndGlyphs">2022</text>
<text x="457.5" y="372" font-size="18.6" text-anchor="middle" textLength="42.5" lengthAdjust="spacingAndGlyphs">2023</text>
<text x="537.5" y="372" font-size="18.6" text-anchor="middle" textLength="42.5" lengthAdjust="spacingAndGlyphs">2024</text>
<text x="617.5" y="372" font-size="18.6" text-anchor="middle" textLength="42.5" lengthAdjust="spacingAndGlyphs">2025</text>
<text x="697.5" y="372" font-size="18.6" text-anchor="middle" textLength="42.5" lengthAdjust="spacingAndGlyphs">2026</text>
<text x="67.0" y="55.5" font-size="17.2" font-style="italic" textLength="139" lengthAdjust="spacingAndGlyphs">glissement annuel</text>
<text x="539.5" y="396" font-size="15" font-style="italic" textLength="126.5" lengthAdjust="spacingAndGlyphs">Sources: LBPAM &amp;</text>
<text x="539.8" y="415.7" font-size="15" font-style="italic" textLength="75.5" lengthAdjust="spacingAndGlyphs">Bloomberg</text>
<rect x="133.9" y="374.3" width="42" height="13.7" rx="1.2" fill="#00959c"/>
<text x="179.3" y="386.4" font-size="18.8" textLength="181.5" lengthAdjust="spacingAndGlyphs">dont salaires horaires</text>
<rect x="133.9" y="397.1" width="42" height="13.7" rx="1.2" fill="#ee7008"/>
<text x="179.3" y="409.2" font-size="18.8" textLength="192.5" lengthAdjust="spacingAndGlyphs">dont heures travaillées</text>
<rect x="133.9" y="419.9" width="42" height="13.7" rx="1.2" fill="#e0b83e"/>
<text x="179.3" y="432.0" font-size="18.8" textLength="112.5" lengthAdjust="spacingAndGlyphs">dont l'emploi</text>
</g>
</svg>
</body></html>
